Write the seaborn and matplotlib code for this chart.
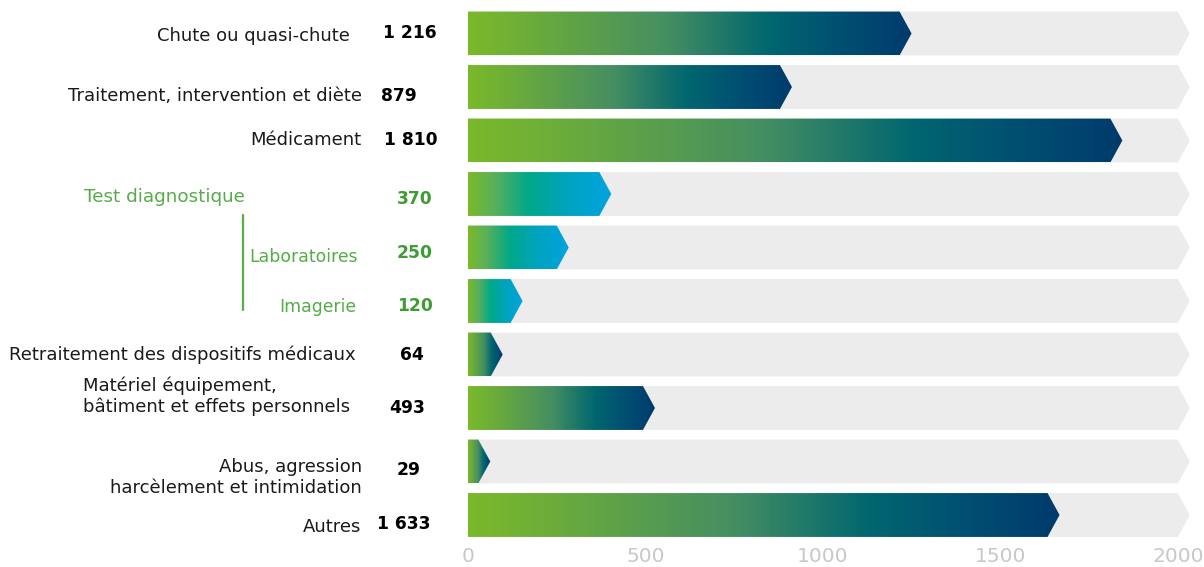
import numpy as np
import matplotlib
matplotlib.use("Agg")
import matplotlib.pyplot as plt
import matplotlib.transforms as mtransforms
from matplotlib.patches import Polygon
from matplotlib.lines import Line2D
from matplotlib.colors import LinearSegmentedColormap
import seaborn as sns

# ---------------- data ----------------
categories = [
    "Chute ou quasi-chute",
    "Traitement, intervention et diète",
    "Médicament",
    "Test diagnostique",
    "Laboratoires",
    "Imagerie",
    "Retraitement des dispositifs médicaux",
    "Matériel équipement,\nbâtiment et effets personnels",
    "Abus, agression\nharcèlement et intimidation",
    "Autres",
]
values = [1216, 879, 1810, 370, 250, 120, 64, 493, 29, 1633]
value_labels = ["1 216", "879", "1 810", "370", "250", "120", "64", "493", "29", "1 633"]
groups = ["main", "main", "main", "test", "test", "test", "main", "main", "main", "main"]
x_ticks = [0, 500, 1000, 1500, 2000]
axis_max = 2000

# ---------------- layout (pixels) ----------------
W, H = 1204, 567
label_x_right = [350, 362, 361, 245, 358, 356, 356, 350, 362, 361]
label_dy = [3, 9, 0, 3, 10, 6, 0, -12, 16, 12]
label_align = ["right", "right", "right", "right", "right", "right", "right",
               "left", "right", "right"]
label_size = [13, 13, 13, 13.2, 12.4, 12.4, 13, 13, 13, 13]
value_x = [410, 399, 411, 415, 415, 415, 412, 407, 409, 404]
value_dy = [0, 9, 0, 5, 6, 5, 1, 0, 9, 9]
row_px = 53.5

sns.set_theme(style="white")
plt.rcParams["font.family"] = ["DejaVu Sans"]

fig = plt.figure(figsize=(W / 100, H / 100), dpi=100)
ax = fig.add_axes([468 / W, 1 - 541.75 / H, 724 / W, 535 / H])

xmax = 2040
tip = 12 / (724 / xmax)

sns.barplot(x=[axis_max] * len(categories), y=categories, orient="h",
            color="#ececec", width=0.82, ax=ax)
sns.barplot(x=values, y=categories, orient="h", color="#7ab929",
            width=0.82, ax=ax)

cmap_main = LinearSegmentedColormap.from_list(
    "main", [(0, "#7ab929"), (0.12, "#6eae38"), (0.45, "#458e62"),
             (0.68, "#00666f"), (0.85, "#004e72"), (1, "#003b6c")])
cmap_test = LinearSegmentedColormap.from_list(
    "test", [(0, "#7ab929"), (0.18, "#5ab05a"), (0.42, "#00a888"),
             (0.7, "#00a3bf"), (1, "#00a3e0")])

n = len(categories)
patches = list(ax.patches)
bg_patches, fg_patches = patches[:n], patches[n:2 * n]


def arrow_poly(x0, x1, yc, h):
    return [(x0, yc - h / 2), (x1, yc - h / 2), (x1 + tip, yc),
            (x1, yc + h / 2), (x0, yc + h / 2)]


for p in bg_patches:
    p.set_visible(False)
    yc = p.get_y() + p.get_height() / 2
    poly = Polygon(arrow_poly(p.get_x(), p.get_x() + p.get_width(), yc, p.get_height()),
                   closed=True, facecolor="#ececec", edgecolor="none", zorder=1,
                   clip_on=False)
    ax.add_patch(poly)

grad = np.linspace(0, 1, 512).reshape(1, -1)
for i, p in enumerate(fg_patches):
    p.set_visible(False)
    h = p.get_height()
    yc = p.get_y() + h / 2
    x0, x1 = p.get_x(), p.get_x() + p.get_width()
    poly = Polygon(arrow_poly(x0, x1, yc, h), closed=True, facecolor="none",
                   edgecolor="none", zorder=2)
    ax.add_patch(poly)
    cmap = cmap_test if groups[i] == "test" else cmap_main
    im = ax.imshow(grad, extent=[x0, x1 + tip, yc + h / 2, yc - h / 2],
                   cmap=cmap, aspect="auto", interpolation="bilinear", zorder=3)
    im.set_clip_path(poly)

ax.set_xlim(0, xmax)
ax.set_ylim(n - 0.5, -0.5)
ax.set_xticks(x_ticks)
ax.set_xticklabels([str(t) for t in x_ticks])
ax.set_yticks([])
ax.set_xlabel("")
ax.set_ylabel("")
ax.tick_params(axis="x", length=0, pad=4, labelsize=14.5, labelcolor="#c8c8c8")
for s in ax.spines.values():
    s.set_visible(False)
ax.grid(False)

trans = mtransforms.blended_transform_factory(fig.transFigure, ax.transData)
green_txt = "#55ac48"
green_val = "#3f9c35"
for i in range(n):
    col = green_txt if groups[i] == "test" else "#1a1a1a"
    vcol = green_val if groups[i] == "test" else "#000000"
    ax.text(label_x_right[i] / W, i + label_dy[i] / row_px, categories[i],
            transform=trans, ha="right", va="center", multialignment=label_align[i],
            fontsize=label_size[i], color=col, linespacing=1.15)
    ax.text(value_x[i] / W, i + value_dy[i] / row_px, value_labels[i],
            transform=trans, ha="center", va="center", fontsize=12.3,
            fontweight="bold", color=vcol)

fig.add_artist(Line2D([243 / W, 243 / W], [1 - 215 / H, 1 - 310 / H],
                      transform=fig.transFigure, color="#5aad46", lw=1.6))

fig.savefig("out.png", dpi=100)
